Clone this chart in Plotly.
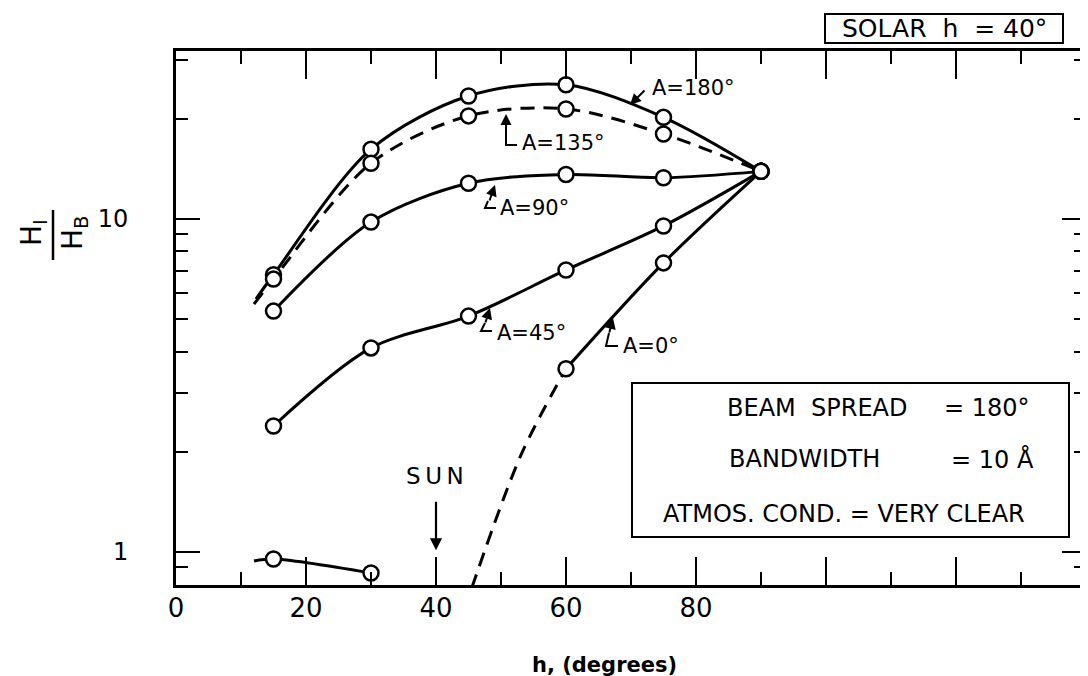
import math
import plotly.graph_objects as go

# ---------------- data ----------------
H = [15, 30, 45, 60, 75, 90]                     # h, degrees
A180 = [6.8, 16.2, 23.4, 25.3, 20.2, 13.9]
A135 = [6.6, 14.7, 20.4, 21.4, 18.0, 13.9]
A90 = [5.29, 9.79, 12.8, 13.6, 13.3, 13.9]
A45 = [2.39, 4.10, 5.11, 7.03, 9.53, 13.9]
A0_H = [15, 30, 60, 75, 90]
A0 = [0.953, 0.865, 3.55, 7.38, 13.9]

# line extensions drawn beyond the first circle in the reference
A180_START = (12.3, 5.75)
A135_START = (12.0, 5.55)
A0_START = (12.0, 0.94)
# dashed (extrapolated) part of A=0 rising from below the axis
A0_DASH_H = [45.5, 53.1, 60]
A0_DASH_V = [0.78, 1.96, 3.55]

SUN_H = 40
X_TICKS = [0, 20, 40, 60, 80, 100, 120, 140]
X_TICKTEXT = ["0", "20", "40", "60", "80", " ", " ", " "]
Y_TICKS = [1, 10]
Y_TICKTEXT = ["1", "10"]
Y_MINOR = [0.8, 0.9, 2, 3, 4, 5, 6, 7, 8, 9, 20, 30]

# ---------------- layout geometry ----------------
W, HGT = 1088, 676
L, R, T, B = 168, 1078, 43, 577


def P(x, y):
    """pixel position -> paper coordinates (for decorations only)"""
    return (x - L) / (R - L), (B - y) / (B - T)


FONT = "DejaVu Sans"
fig = go.Figure()

LINE = dict(color="black", width=3, shape="spline", smoothing=0.9)


def line_trace(xs, ys, dash="solid"):
    fig.add_trace(go.Scatter(x=xs, y=ys, mode="lines",
                             line=dict(LINE, dash=dash),
                             hoverinfo="skip", showlegend=False))


line_trace([A180_START[0]] + H, [A180_START[1]] + A180)
line_trace([A135_START[0]] + H, [A135_START[1]] + A135, dash="14px,9px")
line_trace(H, A90)
line_trace(H, A45)
line_trace([A0_START[0]] + A0_H[:2], [A0_START[1]] + A0[:2])
line_trace(A0_DASH_H, A0_DASH_V, dash="14px,9px")
line_trace(A0_H[2:], A0[2:])

MK = dict(symbol="circle", size=15, color="white",
          line=dict(color="black", width=2.5))
for xs, ys in [(H, A180), (H, A135), (H, A90), (H, A45), (A0_H, A0)]:
    fig.add_trace(go.Scatter(x=xs, y=ys, mode="markers", marker=MK,
                             showlegend=False, hoverinfo="skip"))

shapes = []
annotations = []


def text(x, y, s, size=21, xanchor="left", **kw):
    px, py = P(x, y)
    annotations.append(dict(x=px, y=py, xref="paper", yref="paper", text=s,
                            showarrow=False, xanchor=xanchor, yanchor="middle",
                            font=dict(family=FONT, size=size, color="black"), **kw))


def arrow(tail, tip, width=2):
    px, py = P(*tip)
    annotations.append(dict(x=px, y=py, xref="paper", yref="paper", text="",
                            showarrow=True, arrowhead=2, arrowsize=1.1,
                            arrowwidth=width, arrowcolor="black",
                            ax=tail[0] - tip[0], ay=tail[1] - tip[1]))


def path(points, width=2):
    d = ""
    for i, (x, y) in enumerate(points):
        px, py = P(x, y)
        d += ("M" if i == 0 else " L") + f"{px:.5f},{py:.5f}"
    shapes.append(dict(type="path", path=d, xref="paper", yref="paper",
                       line=dict(color="black", width=width)))


def rect(x0, y0, x1, y1, width=2):
    a, b = P(x0, y1)
    c, d = P(x1, y0)
    shapes.append(dict(type="rect", x0=a, y0=b, x1=c, y1=d, xref="paper",
                       yref="paper", line=dict(color="black", width=width)))


# curve labels with leaders
arrow((638, 81), (622, 97))
text(642, 80, "A=180°")

path([(509, 137), (498, 137), (498, 120)])
arrow((498, 122), (498, 106))
text(512, 135, "A=135°")

path([(480, 193), (477, 200), (488, 200)])
arrow((481, 194), (487, 177))
text(490, 200, "A=90°")

path([(477, 315), (473, 323), (484, 323)])
arrow((477, 316), (482, 300))
text(487, 325, "A=45°")

path([(601, 325), (598, 338), (610, 338)])
arrow((601, 326), (605, 310))
text(613, 338, "A=0°")

# SUN marker
text(427, 468, "S\u2009U\u2009N", size=23, xanchor="center")
annotations.append(dict(x=SUN_H, y=0.005, xref="x", yref="y", text="",
                        showarrow=True, arrowhead=2, arrowsize=1.1,
                        arrowwidth=2.2, arrowcolor="black", ax=0, ay=-50))

# conditions box
rect(624, 375, 1061, 529)
text(717, 400, "BEAM\u00a0\u00a0SPREAD", size=24)
text(934, 400, "= 180°", size=24)
text(719, 451, "BANDWIDTH", size=24)
text(941, 451, "= 10 Å", size=24)
text(653, 506, "ATMOS. COND. = VERY CLEAR", size=24)

# solar box at top right
rect(817, 6, 1055, 35)
text(936, 21, "SOLAR\u00a0\u00a0h\u00a0\u00a0= 40°", size=25, xanchor="center")

# y-axis title as a rotated fraction
text(25, 225, "H<sub>I</sub>", size=28, xanchor="center", textangle=-90)
text(66, 225, "H<sub>B</sub>", size=28, xanchor="center", textangle=-90)
path([(45, 202), (45, 252)], width=2.5)

# x-axis title
text(596, 657, "<b>h, (degrees)</b>", size=21, xanchor="center")

fig.update_layout(
    width=W, height=HGT,
    margin=dict(l=L, r=W - R, t=T, b=HGT - B, pad=0, autoexpand=False),
    paper_bgcolor="white", plot_bgcolor="white",
    showlegend=False,
    shapes=shapes, annotations=annotations,
    font=dict(family=FONT, color="black"),
)
fig.update_xaxes(
    range=[0, 140], showgrid=False, zeroline=False, automargin=False,
    showline=True, linecolor="black", linewidth=3, mirror="allticks",
    tickmode="array", tickvals=X_TICKS, ticktext=X_TICKTEXT,
    ticks="inside", ticklen=28, tickwidth=2, tickcolor="black",
    ticklabelstandoff=-2,
    tickfont=dict(family=FONT, size=26, color="black"),
    minor=dict(ticks="inside", ticklen=13, tickwidth=2, tickcolor="black",
               dtick=10, tick0=0, showgrid=False),
)
fig.update_yaxes(
    type="log", range=[math.log10(0.796), math.log10(31.95)],
    showgrid=False, zeroline=False, automargin=False,
    showline=True, linecolor="black", linewidth=3, mirror="allticks",
    tickmode="array", tickvals=Y_TICKS, ticktext=Y_TICKTEXT,
    ticks="inside", ticklen=24, tickwidth=2, tickcolor="black",
    ticklabelstandoff=40,
    tickfont=dict(family=FONT, size=24, color="black"),
    minor=dict(ticks="inside", ticklen=12, tickwidth=2, tickcolor="black",
               tickvals=Y_MINOR, showgrid=False),
)

fig.write_html("out.html")
